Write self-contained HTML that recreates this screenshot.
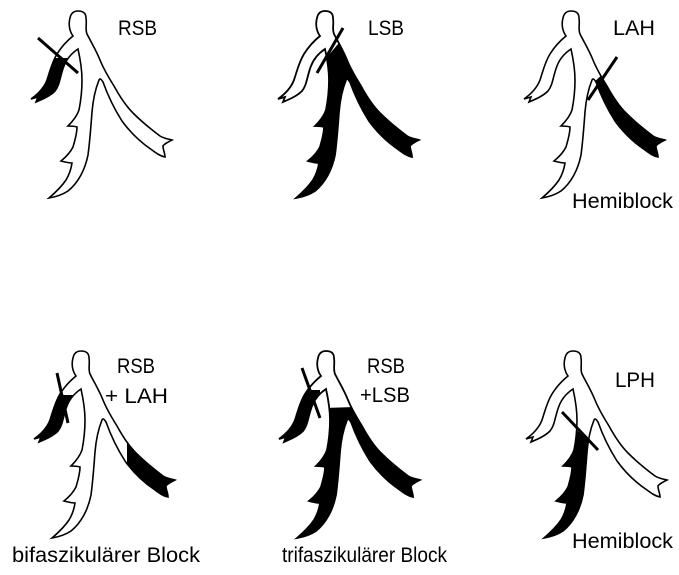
<!DOCTYPE html>
<html><head><meta charset="utf-8"><style>
html,body{margin:0;padding:0;background:#fff;width:679px;height:575px;overflow:hidden}
text{font-family:"Liberation Sans",sans-serif;font-size:21px;fill:#000}
</style></head><body>
<svg width="679" height="575" viewBox="0 0 679 575" xmlns="http://www.w3.org/2000/svg">
<defs>
<path id="fig" d="M73,36 C70,32 68,25 70,18 C71,13 74,11 78,11 C83,11 86,13 86,18 C87,24 85,29 87,34 C91,42 96,50 100,60 C104,70 109,78 114,86 C120,97 126,106 133,113 C142,122 152,130 160,136 C165,139 169,139 172,140 C168,142 164,144 163,146 C163,150 165,153 165,157 C160,156 156,153 152,150 C140,142 130,132 122,121 C115,110 108,96 103,82 C101,79 100,78 99,80 C95,90 93,100 92,112 C91,125 90,140 88,155 C85,170 78,183 68,191 C62,195 55,197 49,198 C56,192 62,186 66,180 C69,175 71,170 72,163 C68,163 65,162 61,161 C66,157 70,153 73,147 C75,140 77,134 77,127 C74,126 71,126 68,126 C73,121 77,116 79,110 C81,100 82,90 82,80 C82,70 80,58 78,49 C72,53 67,58 64,66 C60,76 60,85 55,91 C50,96 43,99 36,102 L38,97 L31,99 C38,94 44,88 47,80 C50,71 52,62 57,54 C62,46 68,40 73,36 Z"/>
<clipPath id="c"><use href="#fig"/></clipPath>
</defs>

<g transform="translate(0,0)">
<use href="#fig" fill="#fff"/>
<g clip-path="url(#c)"><polygon points="20,58 70,58 70,110 20,110" fill="#000"/></g>
<use href="#fig" fill="none" stroke="#000" stroke-width="1.6"/>
<line x1="38" y1="38" x2="78" y2="73" stroke="#000" stroke-width="3"/>
</g>
<text x="118" y="35" textLength="39" lengthAdjust="spacingAndGlyphs">RSB</text>

<g transform="translate(247,0)">
<use href="#fig" fill="#fff"/>
<g clip-path="url(#c)"><polygon points="76,62 96,38 200,38 200,210 45,210 45,150 66,115 74,100" fill="#000"/></g>
<use href="#fig" fill="none" stroke="#000" stroke-width="1.8"/>
<line x1="96" y1="28" x2="70" y2="73" stroke="#000" stroke-width="3"/>
</g>
<text x="368" y="35" textLength="36" lengthAdjust="spacingAndGlyphs">LSB</text>

<g transform="translate(493,0)">
<use href="#fig" fill="#fff"/>
<g clip-path="url(#c)"><polygon points="97,86 116,68 200,110 200,200 96,200" fill="#000"/></g>
<use href="#fig" fill="none" stroke="#000" stroke-width="1.6"/>
<line x1="124" y1="57" x2="95" y2="100" stroke="#000" stroke-width="3"/>
</g>
<text x="613" y="35" textLength="42" lengthAdjust="spacingAndGlyphs">LAH</text>
<text x="572" y="208" textLength="101" lengthAdjust="spacingAndGlyphs">Hemiblock</text>

<g transform="translate(3,340)">
<use href="#fig" fill="#fff"/>
<g clip-path="url(#c)"><polygon points="20,55 70,55 70,110 20,110" fill="#000"/><polygon points="124,95 200,95 200,200 124,200" fill="#000"/></g>
<use href="#fig" fill="none" stroke="#000" stroke-width="1.6"/>
<line x1="54" y1="33" x2="65" y2="83" stroke="#000" stroke-width="3"/>
</g>
<text x="117" y="373" textLength="38" lengthAdjust="spacingAndGlyphs">RSB</text>
<text x="105" y="403" textLength="63" lengthAdjust="spacingAndGlyphs">+ LAH</text>
<text x="12" y="562" textLength="188" lengthAdjust="spacingAndGlyphs">bifaszikulärer Block</text>

<g transform="translate(248,340)">
<use href="#fig" fill="#fff"/>
<g clip-path="url(#c)"><polygon points="20,50 72,50 72,110 20,110" fill="#000"/><polygon points="76,68 200,64 200,210 45,210 45,150 66,115 74,100" fill="#000"/></g>
<use href="#fig" fill="none" stroke="#000" stroke-width="1.8"/>
<line x1="54" y1="28" x2="72" y2="78" stroke="#000" stroke-width="3"/>
</g>
<text x="367" y="373" textLength="38" lengthAdjust="spacingAndGlyphs">RSB</text>
<text x="360" y="402" textLength="50" lengthAdjust="spacingAndGlyphs">+LSB</text>
<text x="282" y="562" textLength="165" lengthAdjust="spacingAndGlyphs">trifaszikulärer Block</text>

<g transform="translate(495,340)">
<use href="#fig" fill="#fff"/>
<g clip-path="url(#c)"><polygon points="70,82 95,100 95,210 30,210 45,112" fill="#000"/></g>
<use href="#fig" fill="none" stroke="#000" stroke-width="1.6"/>
<line x1="67" y1="72" x2="103" y2="110" stroke="#000" stroke-width="3"/>
</g>
<text x="615" y="387" textLength="40" lengthAdjust="spacingAndGlyphs">LPH</text>
<text x="572" y="548" textLength="101" lengthAdjust="spacingAndGlyphs">Hemiblock</text>
</svg>
</body></html>
